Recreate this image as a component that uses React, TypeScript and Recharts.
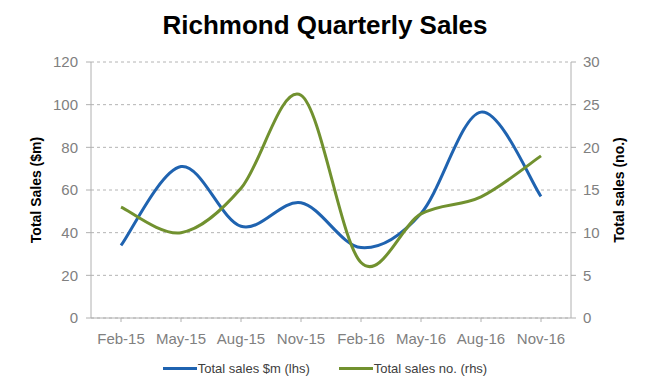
import React from "react";
import { LineChart, Line, XAxis, YAxis, CartesianGrid } from "recharts";

const quarters = ["Feb-15", "May-15", "Aug-15", "Nov-15", "Feb-16", "May-16", "Aug-16", "Nov-16"];
const salesValue = [34, 71, 43, 54, 33, 49, 96.5, 57];
const salesCount = [13, 10, 15.2, 26.1, 6.5, 12.2, 14.2, 19];
const lhsTicks = [0, 20, 40, 60, 80, 100, 120];
const rhsTicks = [0, 5, 10, 15, 20, 25, 30];

const data = quarters.map((q, i) => ({ q, value: salesValue[i], count: salesCount[i] }));

const BLUE = "#1f63b0";
const GREEN = "#71912f";
const GREY = "#808080";
const FONT = "'Liberation Sans', Arial, sans-serif";

// Excel-like smoothing (Catmull-Rom style bezier, 1/6 control offsets)
function excelSmooth(context: any) {
  let pts: number[][] = [];
  return {
    areaStart() {},
    areaEnd() {},
    lineStart() {
      pts = [];
    },
    point(x: number, y: number) {
      pts.push([+x, +y]);
    },
    lineEnd() {
      if (!pts.length) return;
      context.moveTo(pts[0][0], pts[0][1]);
      for (let i = 0; i < pts.length - 1; i++) {
        const p0 = pts[Math.max(i - 1, 0)];
        const p1 = pts[i];
        const p2 = pts[i + 1];
        const p3 = pts[Math.min(i + 2, pts.length - 1)];
        context.bezierCurveTo(
          p1[0] + (p2[0] - p0[0]) / 6,
          p1[1] + (p2[1] - p0[1]) / 6,
          p2[0] - (p3[0] - p1[0]) / 6,
          p2[1] - (p3[1] - p1[1]) / 6,
          p2[0],
          p2[1]
        );
      }
    },
  };
}

const tickStyle = { fill: GREY, fontSize: 15, fontFamily: FONT };

export default function App() {
  return (
    <div style={{ position: "absolute", left: 0, top: 0, width: 650, height: 392, background: "#fff", fontFamily: FONT }}>
      <div style={{ position: "absolute", left: 0, top: 10, width: 650, textAlign: "center", fontSize: 26, fontWeight: "bold", color: "#000" }}>
        Richmond Quarterly Sales
      </div>
      <div style={{ position: "absolute", left: 36, top: 190, transform: "translate(-50%, -50%) rotate(-90deg)", whiteSpace: "nowrap", fontSize: 14, fontWeight: "bold", color: "#000" }}>
        Total Sales ($m)
      </div>
      <div style={{ position: "absolute", left: 619, top: 190, transform: "translate(-50%, -50%) rotate(-90deg)", whiteSpace: "nowrap", fontSize: 14, fontWeight: "bold", color: "#000" }}>
        Total sales (no.)
      </div>
      <LineChart
        width={650}
        height={392}
        data={data}
        margin={{ top: 62, right: 0, left: 0, bottom: 44 }}
        style={{ position: "absolute", left: 0, top: 0 }}
      >
        <CartesianGrid vertical={false} stroke="#b4b4b4" strokeDasharray="3 3" yAxisId="lhs" />
        <XAxis
          dataKey="q"
          height={30}
          padding={{ left: 30, right: 30 }}
          tick={tickStyle}
          tickSize={4}
          tickMargin={11}
          stroke="#b0b0b0"
          interval={0}
        />
        <YAxis
          yAxisId="lhs"
          width={91}
          domain={[0, 120]}
          ticks={lhsTicks}
          tick={tickStyle}
          tickSize={5}
          tickMargin={8}
          stroke="#b0b0b0"
        />
        <YAxis
          yAxisId="rhs"
          orientation="right"
          width={79}
          domain={[0, 30]}
          ticks={rhsTicks}
          tick={{ ...tickStyle, textAnchor: "start" }}
          tickSize={5}
          tickMargin={7}
          stroke="#b0b0b0"
        />
        <Line
          yAxisId="lhs"
          dataKey="value"
          type={excelSmooth as any}
          stroke={BLUE}
          strokeWidth={3}
          dot={false}
          isAnimationActive={false}
        />
        <Line
          yAxisId="rhs"
          dataKey="count"
          type={excelSmooth as any}
          stroke={GREEN}
          strokeWidth={3}
          dot={false}
          isAnimationActive={false}
        />
      </LineChart>
      <div style={{ position: "absolute", left: 0, top: 361, width: 650, display: "flex", justifyContent: "center", alignItems: "center", fontSize: 13, color: "#404040" }}>
        <span style={{ display: "inline-block", width: 34, height: 3, background: BLUE, marginRight: 1 }} />
        <span style={{ marginRight: 29 }}>Total sales $m (lhs)</span>
        <span style={{ display: "inline-block", width: 34, height: 3, background: GREEN, marginRight: 1 }} />
        <span>Total sales no. (rhs)</span>
      </div>
    </div>
  );
}
